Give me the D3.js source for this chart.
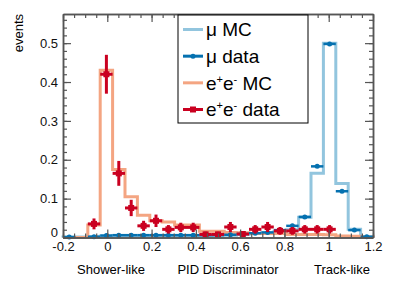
<!DOCTYPE html>
<html>
<head>
<meta charset="utf-8">
<script src="https://cdn.jsdelivr.net/npm/d3@7"></script>
<style>
  body { margin: 0; background: #fff; }
  svg { font-family: "Liberation Sans", Arial, sans-serif; }
</style>
</head>
<body>
<div id="vis"></div>
<script>
//frame constants
const FRAME_WIDTH = 394;
const FRAME_HEIGHT = 283;
const MARGINS = {left: 63, right: 21, top: 14, bottom: 45.5};

//histogram binning: 25 bins from -0.2 to 1.2
const BIN_LO = -0.2;
const BIN_HI = 1.2;
const N_BINS = 25;

//bin contents, one entry per bin (null = empty bin)
const MU_MC = [0.001, 0.001, 0.002, 0.004, 0.005, 0.005, 0.005, 0.005, 0.005, 0.005,
               0.005, 0.005, 0.006, 0.006, 0.008, 0.010, 0.012, 0.015, 0.020, 0.052,
               0.165, 0.500, 0.139, 0.021, 0.001];
const MU_DATA = [0.001, null, 0.002, 0.005, 0.006, 0.006, 0.006, 0.006, 0.006, 0.006,
                 0.006, 0.006, 0.006, 0.007, 0.009, 0.011, 0.013, 0.019, 0.030, 0.053,
                 0.183, 0.498, 0.119, 0.019, 0.002];
const MU_ERR = [0.001, null, 0.001, 0.001, 0.001, 0.001, 0.001, 0.001, 0.001, 0.001,
                0.001, 0.001, 0.001, 0.001, 0.001, 0.001, 0.001, 0.002, 0.002, 0.003,
                0.004, 0.003, 0.004, 0.002, 0.001];
const E_MC = [0, 0, 0.032, 0.430, 0.175, 0.105, 0.057, 0.043, 0.040, 0.032,
              0.032, 0.016, 0.016, 0.013, 0.012, 0.010, 0.010, 0.010, 0.008, 0.008,
              0.008, 0.007, 0.004, 0.003, 0.001];
const E_DATA = [null, null, 0.035, 0.420, 0.165, 0.076, 0.030, 0.043, 0.021, 0.026,
                0.026, 0.008, 0.008, 0.027, 0.009, 0.021, 0.027, 0.017, 0.017, 0.021,
                0.021, 0.021, null, null, null];
const E_ERR = [null, null, 0.014, 0.050, 0.032, 0.021, 0.013, 0.016, 0.011, 0.012,
               0.012, 0.007, 0.007, 0.013, 0.007, 0.011, 0.013, 0.010, 0.010, 0.011,
               0.011, 0.011, null, null, null];

//tick labels
const X_TICKS = [-0.2, 0, 0.2, 0.4, 0.6, 0.8, 1.0, 1.2];
const X_LABELS = ["-0.2", "0", "0.2", "0.4", "0.6", "0.8", "1", "1.2"];
const Y_TICKS = [0, 0.1, 0.2, 0.3, 0.4, 0.5];
const Y_LABELS = ["0", "0.1", "0.2", "0.3", "0.4", "0.5"];

//legend entries
const LEGEND = ["mu_mc", "mu_data", "e_mc", "e_data"];

//colours
const C_MU_MC = "#92c5de";
const C_MU_DATA = "#0571b0";
const C_E_MC = "#f4a582";
const C_E_DATA = "#ca0020";

const FRAME = d3.select("#vis")
                .append("svg")
                  .attr("width", FRAME_WIDTH)
                  .attr("height", FRAME_HEIGHT);

const X_SCALE = d3.scaleLinear()
                  .domain([BIN_LO, BIN_HI])
                  .range([MARGINS.left, FRAME_WIDTH - MARGINS.right]);
const Y_SCALE = d3.scaleLinear()
                  .domain([0, 0.575])
                  .range([FRAME_HEIGHT - MARGINS.bottom, MARGINS.top]);

const BIN_W = (BIN_HI - BIN_LO) / N_BINS;
const EDGES = d3.range(N_BINS + 1).map(i => BIN_LO + i * BIN_W);

//step outline of a histogram
function histPath(vals) {
  const pts = [[EDGES[0], 0]];
  vals.forEach((v, i) => { pts.push([EDGES[i], v]); });
  pts.push([EDGES[N_BINS], vals[N_BINS - 1]]);
  pts.push([EDGES[N_BINS], 0]);
  return d3.line()
           .x(d => X_SCALE(d[0]))
           .y(d => Y_SCALE(d[1]))
           .curve(d3.curveStepAfter)(pts);
}

function drawHist(vals, color) {
  FRAME.append("path")
       .attr("d", histPath(vals))
       .attr("fill", "none")
       .attr("stroke", color)
       .attr("stroke-width", 3);
}

function drawPoints(vals, errs, color, lw, marker) {
  const pts = vals.map((v, i) => ({v: v, e: errs[i], i: i})).filter(d => d.v !== null);
  const g = FRAME.append("g").attr("stroke", color).attr("stroke-width", lw);
  g.selectAll(".h").data(pts).enter().append("line")
    .attr("x1", d => X_SCALE(EDGES[d.i]))
    .attr("x2", d => X_SCALE(EDGES[d.i + 1]))
    .attr("y1", d => Y_SCALE(d.v))
    .attr("y2", d => Y_SCALE(d.v));
  g.selectAll(".v").data(pts).enter().append("line")
    .attr("x1", d => X_SCALE(EDGES[d.i] + BIN_W / 2))
    .attr("x2", d => X_SCALE(EDGES[d.i] + BIN_W / 2))
    .attr("y1", d => Y_SCALE(Math.max(0, d.v - d.e)))
    .attr("y2", d => Y_SCALE(d.v + d.e));
  if (marker === "circle") {
    FRAME.selectAll(".mc").data(pts).enter().append("circle")
      .attr("cx", d => X_SCALE(EDGES[d.i] + BIN_W / 2))
      .attr("cy", d => Y_SCALE(d.v))
      .attr("r", 2.5)
      .attr("fill", color);
  } else {
    FRAME.selectAll(".ms").data(pts).enter().append("rect")
      .attr("x", d => X_SCALE(EDGES[d.i] + BIN_W / 2) - 3)
      .attr("y", d => Y_SCALE(d.v) - 3)
      .attr("width", 6)
      .attr("height", 6)
      .attr("fill", color);
  }
}

drawHist(MU_MC, C_MU_MC);
drawHist(E_MC, C_E_MC);
drawPoints(MU_DATA, MU_ERR, C_MU_DATA, 2.5, "circle");
drawPoints(E_DATA, E_ERR, C_E_DATA, 3, "square");

//ROOT style axes: ticks inside, on all four sides
const X_MINOR = d3.range(-0.2, 1.2001, 0.05);
const Y_MINOR = d3.range(0, 0.575, 0.02);
const x0 = MARGINS.left, x1 = FRAME_WIDTH - MARGINS.right;
const y0 = FRAME_HEIGHT - MARGINS.bottom, y1 = MARGINS.top;

function styleAxis(g) {
  g.select(".domain").attr("stroke", "#555").attr("stroke-width", 1.5);
  g.selectAll(".tick line").attr("stroke", "#555").attr("stroke-width", 1.2);
  g.selectAll("text").attr("fill", "#111").attr("font-size", "13px");
}

FRAME.append("g").attr("transform", "translate(0," + y0 + ")")
     .call(d3.axisBottom(X_SCALE).tickValues(X_MINOR).tickSize(-4).tickSizeOuter(0).tickFormat(""))
     .call(styleAxis);
FRAME.append("g").attr("transform", "translate(0," + y0 + ")")
     .call(d3.axisBottom(X_SCALE).tickValues(X_TICKS).tickSize(-8).tickSizeOuter(0).tickPadding(4)
             .tickFormat((d, i) => X_LABELS[i]))
     .call(styleAxis);
FRAME.append("g").attr("transform", "translate(0," + y1 + ")")
     .call(d3.axisTop(X_SCALE).tickValues(X_MINOR).tickSize(-4).tickSizeOuter(0).tickFormat(""))
     .call(styleAxis);
FRAME.append("g").attr("transform", "translate(0," + y1 + ")")
     .call(d3.axisTop(X_SCALE).tickValues(X_TICKS).tickSize(-8).tickSizeOuter(0).tickFormat(""))
     .call(styleAxis);

const Y_AXIS = FRAME.append("g").attr("transform", "translate(" + x0 + ",0)");
FRAME.append("g").attr("transform", "translate(" + x0 + ",0)")
     .call(d3.axisLeft(Y_SCALE).tickValues(Y_MINOR).tickSize(-4).tickSizeOuter(0).tickFormat(""))
     .call(styleAxis);
Y_AXIS.call(d3.axisLeft(Y_SCALE).tickValues(Y_TICKS).tickSize(-8).tickSizeOuter(0).tickPadding(5)
             .tickFormat((d, i) => Y_LABELS[i]))
      .call(styleAxis);
//the "0" label sits just above the x labels, as in ROOT
Y_AXIS.selectAll(".tick text").filter(d => d === 0).attr("dy", "-0.1em");

FRAME.append("g").attr("transform", "translate(" + x1 + ",0)")
     .call(d3.axisRight(Y_SCALE).tickValues(Y_MINOR).tickSize(-4).tickSizeOuter(0).tickFormat(""))
     .call(styleAxis);
FRAME.append("g").attr("transform", "translate(" + x1 + ",0)")
     .call(d3.axisRight(Y_SCALE).tickValues(Y_TICKS).tickSize(-8).tickSizeOuter(0).tickFormat(""))
     .call(styleAxis);

//axis titles
FRAME.append("text")
     .attr("transform", "translate(23," + MARGINS.top + ") rotate(-90)")
     .attr("text-anchor", "end")
     .attr("font-size", "13px")
     .text("events");
FRAME.append("text").attr("x", 111).attr("y", 274).attr("text-anchor", "middle")
     .attr("font-size", "13px").text("Shower-like");
FRAME.append("text").attr("x", 228).attr("y", 274).attr("text-anchor", "middle")
     .attr("font-size", "13px").text("PID Discriminator");
FRAME.append("text").attr("x", 342).attr("y", 274).attr("text-anchor", "middle")
     .attr("font-size", "13px").text("Track-like");

//legend
const LEG = FRAME.append("g");
LEG.append("rect")
   .attr("x", 178).attr("y", 15)
   .attr("width", 130).attr("height", 108)
   .attr("fill", "#fff").attr("stroke", "#000").attr("stroke-width", 1);

const LEG_Y = d3.scalePoint().domain(LEGEND).range([29.5, 109.5]);
const LEG_COL = {mu_mc: C_MU_MC, mu_data: C_MU_DATA, e_mc: C_E_MC, e_data: C_E_DATA};

LEGEND.forEach(k => {
  const yy = LEG_Y(k);
  LEG.append("line").attr("x1", 183).attr("x2", 203).attr("y1", yy).attr("y2", yy)
     .attr("stroke", LEG_COL[k]).attr("stroke-width", 3);
  if (k === "mu_data") {
    LEG.append("circle").attr("cx", 193).attr("cy", yy).attr("r", 2.5).attr("fill", LEG_COL[k]);
  }
  if (k === "e_data") {
    LEG.append("rect").attr("x", 190).attr("y", yy - 3).attr("width", 6).attr("height", 6)
       .attr("fill", LEG_COL[k]);
  }
  const t = LEG.append("text").attr("x", 206).attr("y", yy).attr("dy", "0.36em")
               .attr("font-size", "19px").attr("fill", "#000");
  if (k === "mu_mc" || k === "mu_data") {
    t.text("\u03bc " + (k === "mu_mc" ? "MC" : "data"));
  } else {
    t.append("tspan").text("e");
    t.append("tspan").attr("font-size", "11px").attr("dy", "-7").text("+");
    t.append("tspan").attr("dy", "7").text("e");
    t.append("tspan").attr("font-size", "11px").attr("dy", "-7").text("-");
    t.append("tspan").attr("dy", "7").text(k === "e_mc" ? " MC" : " data");
  }
});
</script>
</body>
</html>
